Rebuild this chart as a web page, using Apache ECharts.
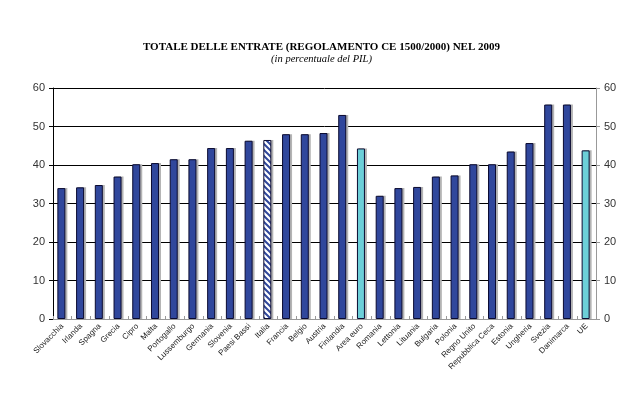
<!DOCTYPE html>
<html>
<head>
<meta charset="utf-8">
<script src="https://cdn.jsdelivr.net/npm/echarts@6/dist/echarts.min.js"></script>
<style>
  html, body { margin: 0; padding: 0; background: #fff; }
  #chart { width: 643px; height: 398px; }
</style>
</head>
<body>
<div id="chart"></div>
<script>
const countries = [
  'Slovacchia', 'Irlanda', 'Spagna', 'Grecia', 'Cipro', 'Malta', 'Portogallo',
  'Lussemburgo', 'Germania', 'Slovenia', 'Paesi Bassi', 'Italia', 'Francia',
  'Belgio', 'Austria', 'Finlandia', 'Area euro', 'Romania', 'Lettonia',
  'Lituania', 'Bulgaria', 'Polonia', 'Regno Unito', 'Repubblica Ceca',
  'Estonia', 'Ungheria', 'Svezia', 'Danimarca', 'UE'
]
const revenue = [
  34.0, 34.2, 34.8, 37.0, 40.2, 40.5, 41.5,
  41.5, 44.4, 44.4, 46.3, 46.5, 48.0,
  48.0, 48.3, 53.0, 44.3, 32.0, 34.0,
  34.3, 37.0, 37.3, 40.2, 40.2,
  43.5, 45.7, 55.7, 55.7, 43.8
]
const aggregates = ['Area euro', 'UE']
const hatched = ['Italia']
const yTicks = [0, 10, 20, 30, 40, 50, 60]

const navy = '#30479c'
const cyan = '#6ccfd8'

// diagonal stripes for Italia
const makeHatch = () => {
  const c = document.createElement('canvas')
  c.width = 6
  c.height = 6
  const ctx = c.getContext('2d')
  ctx.fillStyle = '#ffffff'
  ctx.fillRect(0, 0, 6, 6)
  ctx.strokeStyle = navy
  ctx.lineWidth = 2
  ctx.beginPath()
  ctx.moveTo(-1, -1); ctx.lineTo(7, 7)
  ctx.moveTo(-4, 2); ctx.lineTo(2, 8)
  ctx.moveTo(2, -4); ctx.lineTo(8, 2)
  ctx.stroke()
  return c
}
const hatch = makeHatch()

const barData = countries.map((name, i) => {
  let color = navy
  if (aggregates.includes(name)) color = cyan
  if (hatched.includes(name)) color = { image: hatch, repeat: 'repeat' }
  return { value: revenue[i], itemStyle: { color } }
})

const chart = echarts.init(document.getElementById('chart'))

const valueAxis = (pos) => ({
  type: 'value',
  position: pos,
  min: yTicks[0],
  max: yTicks[yTicks.length - 1],
  interval: 10,
  axisLine: { show: true, lineStyle: { color: pos === 'left' ? '#000' : '#999', width: 1 } },
  axisTick: { show: true, length: 4, lineStyle: { color: pos === 'left' ? '#000' : '#999' } },
  axisLabel: { color: '#333', fontSize: 11, fontFamily: 'Arial, Liberation Sans', margin: 8 },
  splitLine: { show: pos === 'left', lineStyle: { color: '#000', width: 1 } }
})

chart.setOption({
  animation: false,
  backgroundColor: '#fff',
  title: {
    text: 'TOTALE DELLE ENTRATE (REGOLAMENTO CE 1500/2000) NEL 2009',
    subtext: '(in percentuale del PIL)',
    left: 'center',
    top: 37,
    itemGap: 1,
    textStyle: { fontFamily: 'Liberation Serif, Times New Roman, serif', fontWeight: 'bold', fontSize: 11, color: '#000' },
    subtextStyle: { fontFamily: 'Liberation Serif, Times New Roman, serif', fontStyle: 'italic', fontSize: 10.5, color: '#000' }
  },
  grid: { left: 53, right: 47, top: 88, bottom: 79 },
  xAxis: {
    type: 'category',
    data: countries,
    axisLine: { lineStyle: { color: '#999' } },
    axisTick: { show: true, interval: 0, length: 3, inside: true, lineStyle: { color: '#999' } },
    axisLabel: {
      interval: 0,
      rotate: 45,
      fontSize: 8,
      color: '#222',
      fontFamily: 'Arial, Liberation Sans',
      margin: 6
    }
  },
  yAxis: [valueAxis('left'), valueAxis('right')],
  series: [{
    type: 'bar',
    data: barData,
    barWidth: 8,
    barGap: '-75%',
    z: 3,
    itemStyle: { borderColor: '#0a0a30', borderWidth: 1 }
  }, {
    // gray drop shadow, 2px to the right of each bar
    type: 'bar',
    data: revenue,
    barWidth: 8,
    z: 2,
    silent: true,
    itemStyle: { color: '#b4b4b4' }
  }]
})
</script>
</body>
</html>
